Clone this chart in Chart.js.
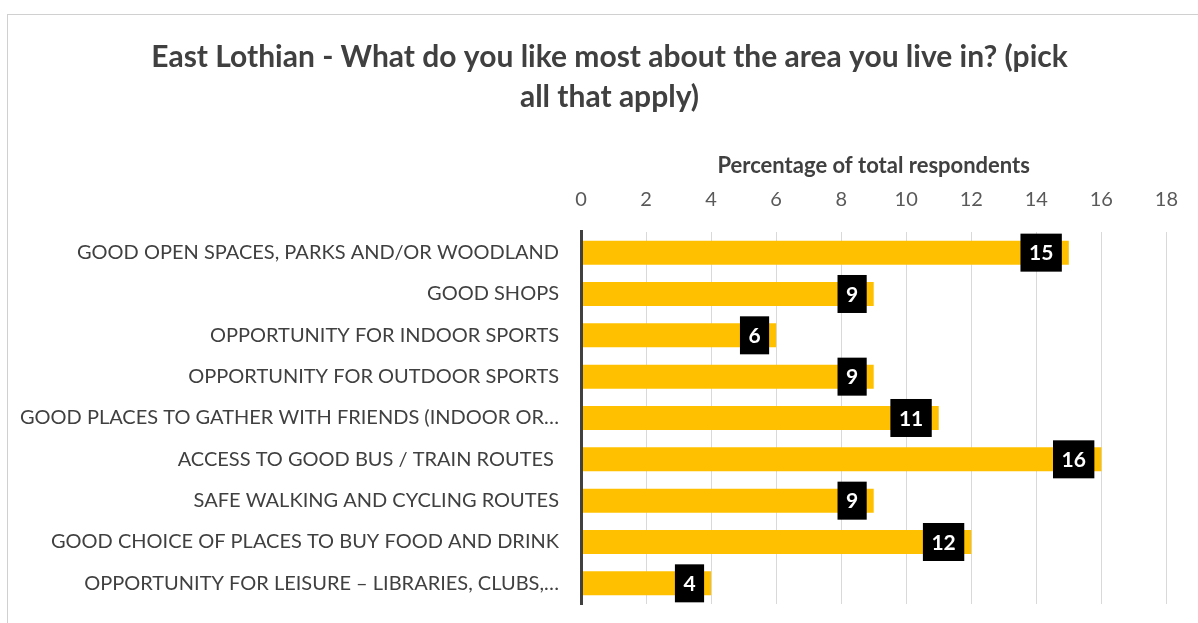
<!DOCTYPE html>
<html>
<head>
<meta charset="utf-8">
<script src="https://cdn.jsdelivr.net/npm/chart.js@4.4.1/dist/chart.umd.min.js"></script>
<style>
  html, body { margin: 0; padding: 0; background: #ffffff; overflow: hidden; }
  #wrap { position: absolute; left: 0; top: 0; width: 1198px; height: 623px; }
  #frame { position: absolute; left: 7px; top: 14px; width: 1200px; height: 700px; border: 1px solid #d0d0d0; box-sizing: border-box; pointer-events: none; }
  canvas { position: absolute; left: 0; top: 0; }
</style>
</head>
<body>
<div id="wrap">
  <div id="frame"></div>
  <canvas id="c" width="1198" height="623"></canvas>
</div>
<script>
const titleLines = [
  "East Lothian - What do you like most about the area you live in? (pick",
  "all that apply)"
];
const axisTitle = "Percentage of total respondents";
const categories = [
  "GOOD OPEN SPACES, PARKS AND/OR WOODLAND",
  "GOOD SHOPS",
  "OPPORTUNITY FOR INDOOR SPORTS",
  "OPPORTUNITY FOR OUTDOOR SPORTS",
  "GOOD PLACES TO GATHER WITH FRIENDS (INDOOR OR\u2026",
  "ACCESS TO GOOD BUS / TRAIN ROUTES ",
  "SAFE WALKING AND CYCLING ROUTES",
  "GOOD CHOICE OF PLACES TO BUY FOOD AND DRINK",
  "OPPORTUNITY FOR LEISURE \u2013 LIBRARIES, CLUBS,\u2026"
];
const values = [15, 9, 6, 9, 11, 16, 9, 12, 4];
const xMin = 0, xMax = 18, xStep = 2;

const FONT = "Lato, 'Open Sans', sans-serif";

const labelBoxes = {
  id: 'labelBoxes',
  afterLayout(chart) {
    // let the category labels extend left of the axis box without clipping
    chart.scales.y.left = 0;
  },
  afterDatasetsDraw(chart) {
    const ctx = chart.ctx;
    const meta = chart.getDatasetMeta(0);
    ctx.save();
    ctx.font = "bold 21px " + FONT;
    ctx.textBaseline = 'middle';
    ctx.textAlign = 'center';
    meta.data.forEach((el, i) => {
      const txt = String(chart.data.datasets[0].data[i]);
      const tw = ctx.measureText(txt).width;
      const w = tw + 17, h = 38;
      const right = el.x - 7;
      const left = right - w;
      ctx.fillStyle = '#000000';
      ctx.fillRect(left, el.y - h / 2, w, h);
      ctx.fillStyle = '#ffffff';
      ctx.fillText(txt, left + w / 2, el.y + 1);
    });
    ctx.restore();
  }
};

new Chart(document.getElementById('c'), {
  type: 'bar',
  data: {
    labels: categories,
    datasets: [{
      data: values,
      backgroundColor: '#FFC000',
      borderWidth: 0,
      categoryPercentage: 1.0,
      barPercentage: 0.58
    }]
  },
  options: {
    indexAxis: 'y',
    responsive: false,
    animation: false,
    devicePixelRatio: 1,
    layout: { padding: { left: 49, right: 28, top: 0, bottom: 19 } },
    plugins: {
      legend: { display: false },
      tooltip: { enabled: false },
      title: {
        display: true,
        text: titleLines,
        color: '#404040',
        font: { family: FONT, size: 30, weight: 'bold', lineHeight: 1.333 },
        padding: { top: 37, bottom: 0 }
      }
    },
    scales: {
      x: {
        position: 'top',
        min: xMin, max: xMax,
        afterFit(scale) { scale.height = 115; },
        ticks: {
          stepSize: xStep,
          color: '#595959',
          font: { family: FONT, size: 20 },
          padding: 20
        },
        grid: { color: '#d9d9d9', lineWidth: 1, drawTicks: false },
        border: { display: false },
        title: {
          display: true,
          text: axisTitle,
          color: '#404040',
          font: { family: FONT, size: 22, weight: 'bold' },
          padding: { top: 36, bottom: 0 }
        }
      },
      y: {
        afterFit(scale) {
          scale.width = 532;
          scale.paddingTop = 0;
          scale.paddingBottom = 0;
        },
        ticks: {
          color: '#404040',
          font: { family: FONT, size: 20 },
          padding: 22,
          autoSkip: false
        },
        grid: { display: false, drawTicks: false },
        border: { display: true, color: '#404040', width: 3, z: 1 }
      }
    }
  },
  plugins: [labelBoxes]
});
</script>
</body>
</html>
